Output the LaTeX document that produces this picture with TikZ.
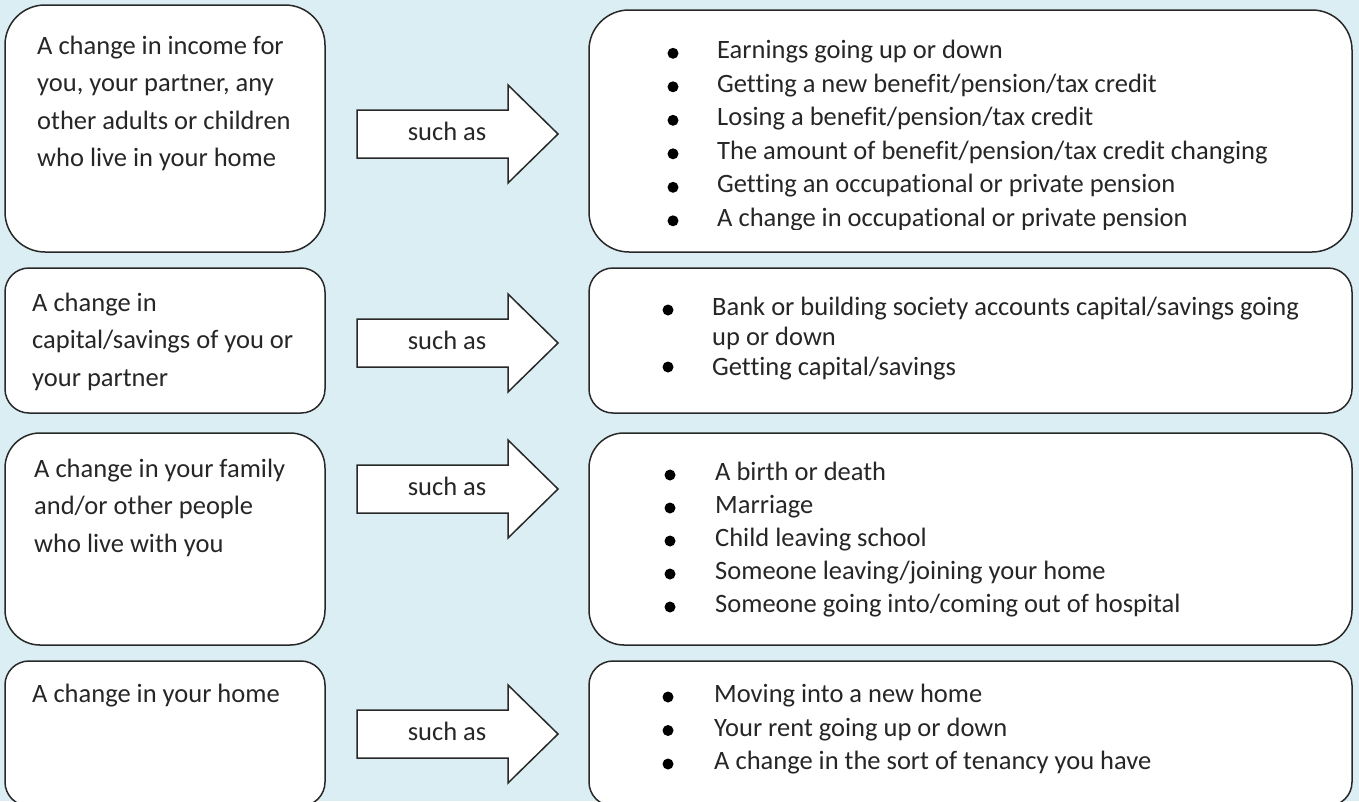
\documentclass[tikz,border=0pt]{standalone}
\usepackage{fontspec}
\setmainfont{Carlito}[Ligatures=NoCommon]
\definecolor{bgblue}{RGB}{219,238,243}
\definecolor{edgegray}{RGB}{40,40,40}
\definecolor{inkgray}{RGB}{38,38,38}

\begin{document}
\begin{tikzpicture}[x=1pt,y=-1pt,
    box/.style={draw=edgegray,fill=white,line width=1.5pt},
    lefttext/.style={anchor=base west,align=left,inner sep=0pt,text=inkgray,
        font=\fontsize{26.5}{37.6}\selectfont},
    itemtext/.style={anchor=base west,inner sep=0pt,text=inkgray,
        font=\fontsize{26.5}{33}\selectfont},
    suchtext/.style={anchor=base,inner sep=0pt,text=inkgray,
        font=\fontsize{26.5}{33}\selectfont},
    blockarrow/.style={draw=edgegray,fill=white,line width=1.5pt,line join=miter},
    dot/.style={fill=black}]
    % Background
    \useasboundingbox (0,0) rectangle (1359,801);
    \fill[bgblue] (0,0) rectangle (1359,801);

    % Left boxes
    \draw[box,rounded corners=40pt] (5,5) rectangle (325,252);
    \draw[box,rounded corners=24pt] (5,268) rectangle (325,413);
    \draw[box,rounded corners=35pt] (5,433) rectangle (325,645);
    \draw[box,rounded corners=24pt] (5,661) rectangle (325,806);

    % Right boxes
    \draw[box,rounded corners=40pt] (589,10) rectangle (1352,252);
    \draw[box,rounded corners=24pt] (589,268) rectangle (1352,413);
    \draw[box,rounded corners=35pt] (589,433) rectangle (1352,645);
    \draw[box,rounded corners=24pt] (589,661) rectangle (1352,806);

    % Left texts (anchored at the baseline of the last line)
    \node[lefttext] (chg1) at (37,166.8) {A change in income for\\you, your partner, any\\other adults or children\\who live in your home};
    \node[lefttext] (chg2) at (32,386.2) {A change in\\capital/savings of you or\\your partner};
    \node[lefttext] (chg3) at (34,552.2) {A change in your family\\and/or other people\\who live with you};
    \node[lefttext] (chg4) at (32,702) {A change in your home};

    % Block arrows
    \foreach \yc [count=\i] in {134,343,489,734} {
        \draw[blockarrow] (357,\yc-24) -- (508,\yc-24) -- (508,\yc-49) -- (558,\yc)
            -- (508,\yc+49) -- (508,\yc+24) -- (357,\yc+24) -- cycle;
        \node[suchtext] (such\i) at (447,\yc+6) {such as};
    }

    % Income list (last line cut by the box)
    \begin{scope}
        \clip (589,10) rectangle (1352,229.5);
        \foreach \t [count=\i] in {Earnings going up or down,
            Getting a new benefit/pension/tax credit,
            Losing a benefit/pension/tax credit,
            The amount of benefit/pension/tax credit changing,
            Getting an occupational or private pension,
            A change in occupational or private pension} {
            \fill[dot] (673,{53.3+33.5*(\i-1)}) circle[radius=5.5pt];
            \node[itemtext] (inc\i) at (717,{58.5+33.5*(\i-1)}) {\t};
        }
    \end{scope}

    % Savings list
    \fill[dot] (668,310) circle[radius=5.5pt];
    \fill[dot] (668,367) circle[radius=5.5pt];
    \node[itemtext,align=left,font=\fontsize{26.5}{30}\selectfont] (sav1) at (712,345)
        {Bank or building society accounts capital/savings going\\up or down};
    \node[itemtext] (sav2) at (712,375) {Getting capital/savings};

    % Family list
    \foreach \t [count=\i] in {A birth or death, Marriage, Child leaving school,
        Someone leaving/joining your home,
        Someone going into/coming out of hospital} {
        \fill[dot] (670,{475+33*(\i-1)}) circle[radius=5.5pt];
        \node[itemtext] (fam\i) at (715,{480.5+33*(\i-1)}) {\t};
    }

    % Home list
    \foreach \t [count=\i] in {Moving into a new home, Your rent going up or down,
        A change in the sort of tenancy you have} {
        \fill[dot] (668,{697+33.5*(\i-1)}) circle[radius=5.5pt];
        \node[itemtext] (home\i) at (714,{702.5+33.5*(\i-1)}) {\t};
    }
\end{tikzpicture}
\end{document}
